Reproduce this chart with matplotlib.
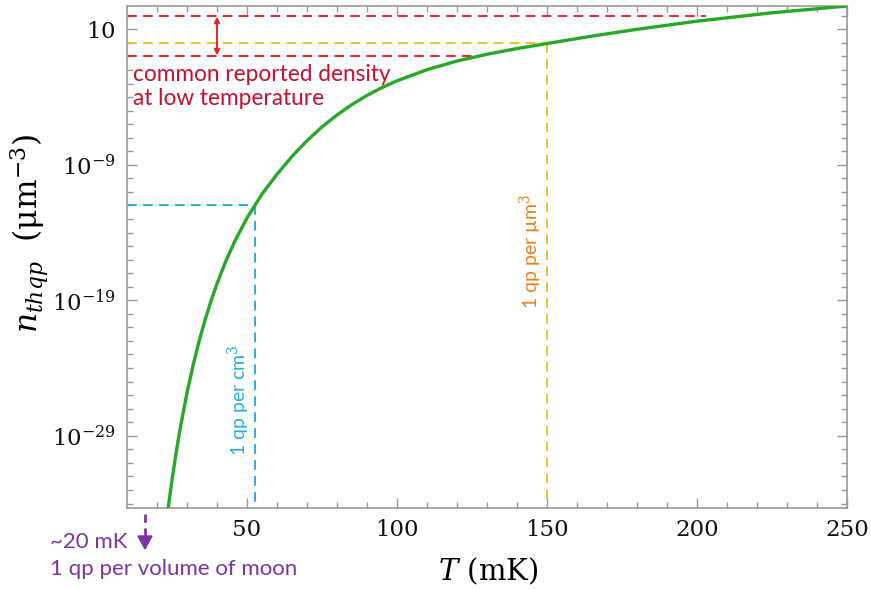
import numpy as np
import matplotlib
matplotlib.use("Agg")
import matplotlib.pyplot as plt
from matplotlib.ticker import FixedLocator, NullFormatter

# ---- data ----
T_mK = [23.5, 24, 25, 26, 27, 28, 30, 32, 34, 36, 38, 40, 43, 46, 50, 55, 60,
        65, 70, 75, 80, 85, 90, 95, 100, 110, 120, 130, 140, 150, 165, 180,
        200, 225, 250]
log10_n = [-34.74, -33.88, -32.28, -30.79, -29.41, -28.14, -25.84, -23.82,
           -22.04, -20.46, -19.05, -17.77, -16.08, -14.61, -12.92, -11.16, -9.7,
           -8.38, -7.22, -6.2, -5.32, -4.55, -3.88, -3.3, -2.8, -1.98, -1.34,
           -0.84, -0.42, -0.05, 0.5, 1.0, 1.6, 2.22, 2.72]
n_thqp = [10.0 ** v for v in log10_n]

band_top = 1e2          # common reported density (upper)
band_bot = 1e-1         # common reported density (lower)
band_top_end_T = 203    # where upper red dashed line ends
band_bot_end_T = 127    # where lower red dashed line meets curve
um3_level = 1.0         # 1 qp per um^3
um3_T = 150
cm3_level = 1e-12       # 1 qp per cm^3
cm3_T = 52.6
arrow_T = 40

xticks_major = [50, 100, 150, 200, 250]
yticks_major = [1e1, 1e-9, 1e-19, 1e-29]
ytick_labels = [r"$10$", r"$10^{-9}$", r"$10^{-19}$", r"$10^{-29}$"]

# ---- figure ----
plt.rcParams['mathtext.fontset'] = 'dejavuserif'
fig = plt.figure(figsize=(8.71, 5.89), dpi=100)
ax = fig.add_axes([0.1458, 0.1375, 0.8267, 0.8523])

xmin, xmax = 10, 250
ymin, ymax = 10 ** -34.33, 10 ** 2.72

red = '#e8262a'
yellow = '#f2c12e'
blue = '#2aaee0'
green = '#27a827'
purple = '#7a35a3'
dash = (0, (5, 3.2))

# reference lines
ax.plot([xmin, band_top_end_T], [band_top, band_top], color=red, lw=1.4, ls=dash, zorder=2)
ax.plot([xmin, band_bot_end_T], [band_bot, band_bot], color=red, lw=1.4, ls=dash, zorder=2)
ax.plot([xmin, um3_T], [um3_level, um3_level], color=yellow, lw=1.4, ls=dash, zorder=2)
ax.plot([um3_T, um3_T], [um3_level, ymin], color=yellow, lw=1.4, ls=dash, zorder=2)
ax.plot([xmin, cm3_T], [cm3_level, cm3_level], color=blue, lw=1.4, ls=dash, zorder=2)
ax.plot([cm3_T, cm3_T], [cm3_level, ymin], color=blue, lw=1.4, ls=dash, zorder=2)

# curve
ax.plot(T_mK, n_thqp, color=green, lw=2.4, zorder=3, solid_capstyle='round',
        solid_joinstyle='round')

# red double arrow
ax.annotate('', xy=(arrow_T, band_top * 0.85), xytext=(arrow_T, band_bot * 1.2),
            arrowprops=dict(arrowstyle='<|-|>', color=red, lw=1.4,
                            mutation_scale=8, shrinkA=0, shrinkB=0), zorder=4)

ax.set_yscale('log')
ax.set_xlim(xmin, xmax)
ax.set_ylim(ymin, ymax)

ax.xaxis.set_major_locator(FixedLocator(xticks_major))
ax.xaxis.set_minor_locator(FixedLocator(list(range(20, 250, 10))))
ax.yaxis.set_major_locator(FixedLocator(yticks_major))
ax.yaxis.set_minor_locator(FixedLocator([10.0 ** k for k in range(-34, 3)]))
ax.yaxis.set_minor_formatter(NullFormatter())
ax.set_xticklabels([str(v) for v in xticks_major])
ax.set_yticklabels(ytick_labels)

frame = '#9a9a9a'
for s in ax.spines.values():
    s.set_color(frame)
    s.set_linewidth(1.2)
ax.tick_params(which='both', direction='in', top=True, right=True, color=frame,
               width=1.0, labelsize=16.5, labelcolor='#111111')
ax.tick_params(which='major', length=7, pad=8)
ax.tick_params(which='minor', length=4)
for lab in ax.get_xticklabels() + ax.get_yticklabels():
    lab.set_family('DejaVu Serif')

# axis labels
fig.text(488 / 871, 1 - 571 / 589, r"$T$ (mK)", ha='center', va='center',
         fontsize=21, family='DejaVu Serif')
fig.text(30 / 871, 1 - 233 / 589, r"$n_{thqp}$  ($\mathrm{\mu m}^{-3}$)", ha='center',
         va='center', rotation=90, fontsize=22.5, family='DejaVu Serif')

# annotations
sans = ['Lato', 'DejaVu Sans']
ax.text(0.008, 0.885, "common reported density\nat low temperature",
        transform=ax.transAxes, ha='left', va='top', color='#c8102e',
        fontsize=16.3, family=sans, linespacing=1.18)
ax.text(cm3_T - 5.2, 10 ** -26.4, "1 qp per cm$^3$", rotation=90, ha='center',
        va='center', color=blue, fontsize=14, family=sans)
ax.text(um3_T - 5.4, 10 ** -15.4, "1 qp per \u00b5m$^3$", rotation=90, ha='center',
        va='center', color='#e8821e', fontsize=14, family=sans)

# purple note below axis
ax.plot([145 / 871, 145 / 871], [1 - 514 / 589, 1 - 537 / 589], transform=fig.transFigure,
        color=purple, lw=2, ls=(0, (3, 2)), clip_on=False)
fig.patches.append(matplotlib.patches.FancyArrow(
    145 / 871, 1 - 536 / 589, 0, -13 / 589, width=0.0001, head_width=14 / 871,
    head_length=13 / 589, length_includes_head=True, color=purple,
    transform=fig.transFigure, figure=fig))
fig.text(50 / 871, 1 - 542 / 589, "~20 mK", ha='left', va='center', color=purple,
         fontsize=16, family=sans)
fig.text(50 / 871, 1 - 569 / 589, "1 qp per volume of moon", ha='left', va='center',
         color=purple, fontsize=16, family=sans)

fig.savefig('out.png', dpi=100, facecolor='white')
